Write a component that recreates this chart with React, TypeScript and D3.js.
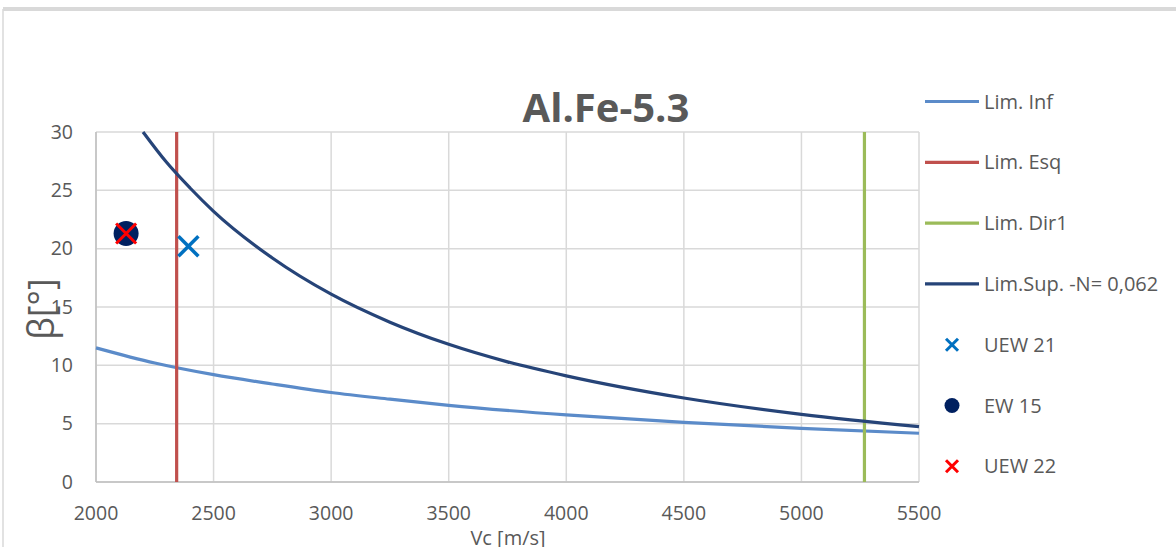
import React from "react";
import * as d3 from "d3";

// ---- Data ----
const xTicks = [2000, 2500, 3000, 3500, 4000, 4500, 5000, 5500];
const yTicks = [0, 5, 10, 15, 20, 25, 30];

const limInfX = [2000, 2250, 2500, 2750, 3000, 3250, 3500, 4000, 4500, 5000, 5500];
const limInfY = [11.5, 10.2, 9.2, 8.4, 7.67, 7.1, 6.57, 5.75, 5.11, 4.6, 4.18];

const limSupX = [2200, 2300, 2400, 2500, 2750, 3000, 3250, 3500, 3750, 4000, 4500, 5000, 5500];
const limSupY = [30, 27.4, 25.2, 23.2, 19.2, 16.1, 13.7, 11.8, 10.3, 9.1, 7.2, 5.8, 4.75];

const limEsqX = 2343;
const limDir1X = 5268;

const uew21 = { x: 2393, y: 20.2 };
const ew15 = { x: 2128, y: 21.3 };
const uew22 = { x: 2128, y: 21.3 };

const legendLabels = [
  "Lim. Inf",
  "Lim. Esq",
  "Lim. Dir1",
  "Lim.Sup. -N= 0,062",
  "UEW 21",
  "EW 15",
  "UEW 22",
];

const C = {
  inf: "#5b8bc9",
  esq: "#c0504d",
  dir: "#9bbb59",
  sup: "#264478",
  uew21: "#0070c0",
  ew15: "#002060",
  uew22: "#ff0000",
  grid: "#d9d9d9",
  text: "#595959",
};

const W = 1176;
const H = 547;
const FONT = "'Open Sans', 'Liberation Sans', sans-serif";

function Cross({ cx, cy, s, color, w }: { cx: number; cy: number; s: number; color: string; w: number }) {
  return (
    <g stroke={color} strokeWidth={w}>
      <line x1={cx - s} y1={cy - s} x2={cx + s} y2={cy + s} />
      <line x1={cx - s} y1={cy + s} x2={cx + s} y2={cy - s} />
    </g>
  );
}

export default function App() {
  const x = d3.scaleLinear().domain([2000, 5500]).range([96, 919]);
  const y = d3.scaleLinear().domain([0, 30]).range([482, 132]);

  const line = d3
    .line<[number, number]>()
    .x((d) => x(d[0]))
    .y((d) => y(d[1]))
    .curve(d3.curveMonotoneX);

  const infPath = line(limInfX.map((v, i) => [v, limInfY[i]] as [number, number])) || "";
  const supPath = line(limSupX.map((v, i) => [v, limSupY[i]] as [number, number])) || "";

  const legX = 925;
  const legY0 = 101.5;
  const legStep = 60.8;

  return (
    <svg
      width={W}
      height={H}
      style={{ position: "absolute", left: 0, top: 0, background: "#fff" }}
      fontFamily={FONT}
    >
      {/* chart frame */}
      <line x1={3} y1={9} x2={W} y2={9} stroke="#d9d9d9" strokeWidth={4} />
      <line x1={3} y1={9} x2={3} y2={H} stroke="#d9d9d9" strokeWidth={1.5} />

      {/* gridlines */}
      {xTicks.map((t) => (
        <line key={"gx" + t} x1={x(t)} x2={x(t)} y1={y(30)} y2={y(0)} stroke={C.grid} strokeWidth={1.5} />
      ))}
      {yTicks.map((t) => (
        <line key={"gy" + t} x1={x(2000)} x2={x(5500)} y1={y(t)} y2={y(t)} stroke={C.grid} strokeWidth={1.5} />
      ))}
      {/* axes */}
      <line x1={x(2000)} x2={x(2000)} y1={y(30)} y2={y(0)} stroke="#bfbfbf" strokeWidth={1.5} />
      <line x1={x(2000)} x2={x(5500)} y1={y(0)} y2={y(0)} stroke="#bfbfbf" strokeWidth={1.5} />

      {/* tick labels */}
      {yTicks.map((t) => (
        <text key={"ty" + t} x={73} y={y(t)} dy="0.35em" textAnchor="end" fontSize={19.5} fill={C.text}>
          {t}
        </text>
      ))}
      {xTicks.map((t) => (
        <text key={"tx" + t} x={x(t)} y={520} textAnchor="middle" fontSize={19.5} fill={C.text}>
          {t}
        </text>
      ))}

      {/* series */}
      <path d={infPath} fill="none" stroke={C.inf} strokeWidth={3.2} />
      <line x1={x(limEsqX)} x2={x(limEsqX)} y1={y(30)} y2={y(0)} stroke={C.esq} strokeWidth={3.2} />
      <line x1={x(limDir1X)} x2={x(limDir1X)} y1={y(30)} y2={y(0)} stroke={C.dir} strokeWidth={3.2} />
      <path d={supPath} fill="none" stroke={C.sup} strokeWidth={3.2} />

      <Cross cx={x(uew21.x)} cy={y(uew21.y)} s={10} color={C.uew21} w={3.5} />
      <circle cx={x(ew15.x)} cy={y(ew15.y)} r={12.5} fill={C.ew15} />
      <Cross cx={x(uew22.x)} cy={y(uew22.y)} s={10} color={C.uew22} w={3} />

      {/* titles */}
      <text x={606} y={122} textAnchor="middle" fontSize={40} fontWeight="bold" fill={C.text}>
        Al.Fe-5.3
      </text>
      <text
        transform={`translate(54, ${(y(0) + y(30)) / 2 + 2}) rotate(-90)`}
        textAnchor="middle"
        fontSize={36}
        fill={C.text}
      >
        β[°]
      </text>
      <text x={508} y={545} textAnchor="middle" fontSize={20} fill={C.text}>
        Vc [m/s]
      </text>

      {/* legend */}
      {legendLabels.map((lab, i) => {
        const cy = legY0 + i * legStep;
        const mx = legX + 27;
        let sym: React.ReactNode = null;
        if (i === 0) sym = <line x1={legX} x2={legX + 54} y1={cy} y2={cy} stroke={C.inf} strokeWidth={3.2} />;
        if (i === 1) sym = <line x1={legX} x2={legX + 54} y1={cy} y2={cy} stroke={C.esq} strokeWidth={3.2} />;
        if (i === 2) sym = <line x1={legX} x2={legX + 54} y1={cy} y2={cy} stroke={C.dir} strokeWidth={3.2} />;
        if (i === 3) sym = <line x1={legX} x2={legX + 54} y1={cy} y2={cy} stroke={C.sup} strokeWidth={3.2} />;
        if (i === 4) sym = <Cross cx={mx} cy={cy} s={6} color={C.uew21} w={3} />;
        if (i === 5) sym = <circle cx={mx} cy={cy} r={7.5} fill={C.ew15} />;
        if (i === 6) sym = <Cross cx={mx} cy={cy} s={6} color={C.uew22} w={3} />;
        return (
          <g key={lab}>
            {sym}
            <text x={legX + 59} y={cy} dy="0.35em" fontSize={20} fill={C.text}>
              {lab}
            </text>
          </g>
        );
      })}
    </svg>
  );
}
